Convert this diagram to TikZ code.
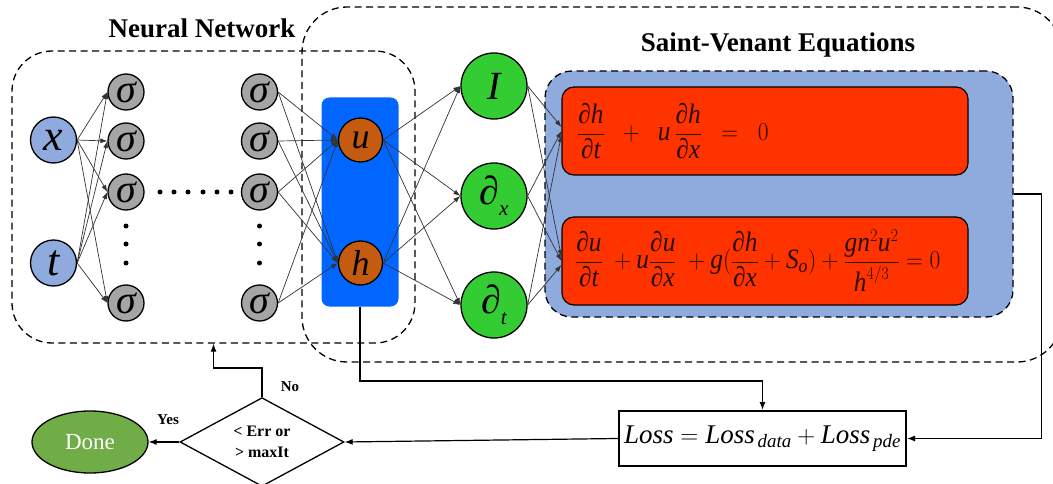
\documentclass[tikz,border=0pt]{standalone}
\usepackage{amsmath}
\usepackage{graphicx}
\usepackage{fontspec}
\setmainfont{Liberation Serif}
\usetikzlibrary{arrows.meta,shapes.geometric,calc}
\definecolor{lblue}{HTML}{8FAADC}
\definecolor{sgray}{HTML}{A5A5A5}
\definecolor{obrown}{HTML}{C55A11}
\definecolor{brightblue}{HTML}{0066FF}
\definecolor{lgreen}{HTML}{33CC33}
\definecolor{eqred}{HTML}{FF3300}
\definecolor{donegreen}{HTML}{70AD47}
\definecolor{eqtext}{HTML}{2A0A00}
\newcommand{\vv}[1]{\textit{#1}}
\begin{document}
\begin{tikzpicture}[x=1pt,y=-1pt,
  frame/.style={draw, line width=1.3pt, dash pattern=on 7pt off 4.5pt, inner sep=0pt},
  neuron/.style={circle, draw, line width=1.3pt, inner sep=0pt},
  inp/.style={neuron, fill=lblue, minimum size=46pt, font=\fontsize{44}{44}\selectfont\itshape},
  sig/.style={neuron, fill=sgray, minimum size=36pt, font=\fontsize{40}{40}\selectfont\itshape},
  outn/.style={neuron, fill=obrown, minimum size=44pt, font=\fontsize{36}{36}\selectfont\itshape},
  gr/.style={neuron, fill=lgreen, minimum size=66pt, font=\fontsize{40}{40}\selectfont\itshape},
  redbox/.style={draw, line width=1.2pt, fill=eqred, rounded corners=12pt, minimum width=406pt, minimum height=88pt, inner sep=0pt},
  eqn/.style={anchor=west, inner sep=0pt, text=eqtext, font=\fontsize{27}{30}\selectfont},
  conn/.style={draw=black!80, line width=0.7pt, -{Latex[length=7pt,width=5pt]}},
  flow/.style={draw=black, line width=1.2pt, -{Latex[length=8pt,width=6pt]}},
  dotnode/.style={circle, fill=black, inner sep=0pt, minimum size=5pt},
  ttl/.style={font=\fontsize{27}{30}\selectfont\bfseries},
  lbl/.style={font=\fontsize{15}{17}\selectfont\bfseries}
]
\useasboundingbox (0,0) rectangle (1053,484);
% frames
\node[frame, rounded corners=40pt, minimum width=403pt, minimum height=292pt] (nnbox) at (213.5,197) {};
\node[frame, rounded corners=45pt, minimum width=760pt, minimum height=355pt] (bigbox) at (682,184.5) {};
\node[frame, fill=lblue, rounded corners=27pt, minimum width=468pt, minimum height=246pt] (sv) at (779,194) {};
\node[redbox] (r1) at (765,131) {};
\node[redbox] (r2) at (765,261) {};
\node[fill=brightblue, rounded corners=8pt, minimum width=77pt, minimum height=209pt, inner sep=0pt] (out) at (360,202) {};
% titles
\node[ttl] (t1) at (202,28) {Neural Network};
\node[ttl] (t2) at (778,45) {Saint-Venant Equations};
% equations
\node[eqn] (e1) at (577,131)
 {\scalebox{0.94}[1.04]{$\dfrac{\vv{∂h}}{\vv{∂t}}\;\;+\;\;\vv{u}\,\dfrac{\vv{∂h}}{\vv{∂x}}\;\;=\;\;0$}};
\node[eqn] (e2) at (575,261)
 {\scalebox{0.94}[1.04]{$\dfrac{\vv{∂u}}{\vv{∂t}}\;+\vv{u}\dfrac{\vv{∂u}}{\vv{∂x}}\;+\vv{g}(\dfrac{\vv{∂h}}{\vv{∂x}}+\vv{S}_{\vv{o}})+\dfrac{\vv{gn}^{2}\vv{u}^{2}}{\vv{h}^{4/3}}=0$}};
% neurons
\node[inp] (x) at (53.5,140) {x};
\node[inp] (t) at (53.5,263) {t};
\foreach \i/\y in {1/92,2/141,3/192,4/303} {
  \node[sig] (a\i) at (126,\y) {σ};
  \node[sig] (b\i) at (259.5,\y) {σ};
}
\node[outn] (u) at (360.5,140) {u};
\node[outn] (h) at (360.5,263) {h};
\node[gr] (gI) at (494,86) {I};
\node[gr] (gx) at (494,196) {∂\raisebox{-11pt}{\fontsize{21}{21}\selectfont x}};
\node[gr] (gt) at (494,305) {∂\raisebox{-11pt}{\fontsize{21}{21}\selectfont t}};
% dots
\foreach \x [count=\k] in {160,174,188,203,217,231} \node[dotnode] (hd\k) at (\x,192) {};
\foreach \y [count=\k] in {226,244,263} {
  \node[dotnode] (va\k) at (126,\y) {};
  \node[dotnode] (vb\k) at (259.5,\y) {};
}
% connectors
\foreach \i in {1,2,3,4} {
  \draw[conn] (x.east) -- (a\i.west);
  \draw[conn] (t.east) -- (a\i.west);
  \draw[conn] (b\i.east) -- (u.west);
  \draw[conn] (b\i.east) -- (h.west);
}
\foreach \s in {u,h} \foreach \g in {gI,gx,gt} \draw[conn] (\s.east) -- (\g.west);
\foreach \g/\o in {gI/4,gx/0,gt/-4} {
  \draw[conn] (\g.east) -- ([yshift=\o pt]r1.west);
  \draw[conn] (\g.east) -- ([yshift=\o pt]r2.west);
}
% bottom flow
\node[draw, line width=2pt, minimum width=287pt, minimum height=55pt, inner sep=0pt, font=\fontsize{27}{30}\selectfont] (loss) at (762.5,438.5)
 {$\vv{Loss}=\vv{Loss}_{\,\vv{data}}+\vv{Loss}_{\,\vv{pde}}$};
\node[diamond, draw, line width=1.3pt, minimum width=164pt, minimum height=82pt, inner sep=0pt, align=center, font=\fontsize{16}{21}\selectfont\bfseries] (dia) at (262,442) {< Err or\\> maxIt};
\node[ellipse, draw, line width=1.3pt, fill=donegreen, minimum width=116pt, minimum height=62pt, inner sep=0pt, text=white, font=\fontsize{23}{25}\selectfont] (done) at (90,442) {Done};
\node[lbl] (no) at (290,387) {No};
\node[lbl] (yes) at (168,420) {Yes};
\draw[flow] (out.south) |- ($(loss.north)+(0,-29)$) -- (loss.north);
\draw[flow] (sv.east) -- ++(28,0) |- (loss.east);
\draw[flow] (loss.west) -- (dia.east);
\draw[flow] (dia.west) -- (done.east);
\draw[flow] (dia.north) -- ++(0,-29) -| (nnbox.south);
\end{tikzpicture}
\end{document}
